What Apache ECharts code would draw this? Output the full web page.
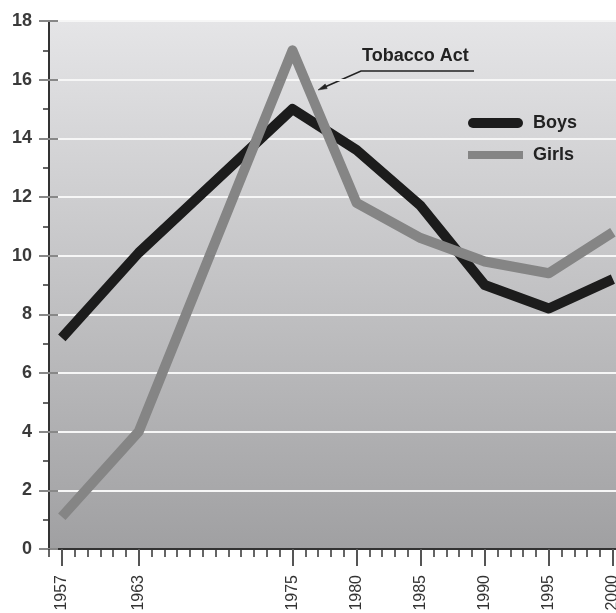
<!DOCTYPE html>
<html>
<head>
<meta charset="utf-8">
<script src="https://cdn.jsdelivr.net/npm/echarts@6/dist/echarts.min.js"></script>
<style>
html,body{margin:0;padding:0;background:#fff;}
#c{width:616px;height:613px;}
</style>
</head>
<body>
<div id="c"></div>
<script>
// ---- data ----
const years = [1957, 1963, 1975, 1980, 1985, 1990, 1995, 2000];
const boys  = [7.2, 10.1, 15.0, 13.6, 11.7, 9.0, 8.2, 9.2];
const girls = [1.1, 4.0, 17.0, 11.8, 10.6, 9.8, 9.4, 10.8];
const seriesNames = ['Boys', 'Girls'];
const annotationText = 'Tobacco Act';
const yTicks = [0, 2, 4, 6, 8, 10, 12, 14, 16, 18];

const chart = echarts.init(document.getElementById('c'), null, {renderer: 'canvas'});
const pair = (xs, ys) => xs.map((x, i) => [x, ys[i]]);
const FONT = '"Liberation Sans", Arial, sans-serif';

const option = {
  animation: false,
  grid: {
    left: 49, top: 21, width: 569, bottom: 64,
    outerBoundsMode: 'none',
    containLabel: false,
    show: true,
    backgroundColor: new echarts.graphic.LinearGradient(0, 0, 0, 1, [
      {offset: 0, color: '#e5e5e7'},
      {offset: 1, color: '#a0a0a2'}
    ]),
    borderColor: '#3a3a3a',
    borderWidth: 2
  },
  xAxis: [
    {
      type: 'value', min: 1956, max: 2000.4, interval: 1,
      axisLine: {show: true, lineStyle: {color: '#333', width: 2}},
      axisTick: {show: true, length: 8, lineStyle: {color: '#333', width: 1.5}},
      axisLabel: {show: false},
      splitLine: {show: false}
    },
    {
      type: 'value', min: 1956, max: 2000.4, position: 'bottom',
      axisLine: {show: false},
      axisTick: {show: true, customValues: years, length: 17, lineStyle: {color: '#555', width: 2}},
      axisLabel: {
        show: true, customValues: years, rotate: 90, margin: 26,
        fontSize: 16, color: '#333', fontFamily: FONT,
        formatter: v => String(v)
      },
      splitLine: {show: false}
    }
  ],
  yAxis: [
    {
      type: 'value', min: 0, max: 18, interval: 2,
      axisLine: {show: true, lineStyle: {color: '#333', width: 2}},
      axisTick: {show: true, length: 10, lineStyle: {color: '#888', width: 2}},
      minorTick: {show: true, splitNumber: 2, length: 6, lineStyle: {color: '#333', width: 1.5}},
      axisLabel: {
        show: true, margin: 17, fontSize: 18, fontWeight: 'bold', color: '#3a3a3a', fontFamily: FONT,
        customValues: yTicks
      },
      splitLine: {show: true, lineStyle: {color: '#f6f6f6', width: 2}}
    },
    {
      type: 'value', min: 0, max: 18, interval: 2, position: 'left',
      axisLine: {show: false},
      axisTick: {show: true, inside: true, length: 9, lineStyle: {color: '#888', width: 2}},
      axisLabel: {show: false},
      splitLine: {show: false}
    }
  ],
  legend: {
    orient: 'vertical', left: 463, top: 109,
    itemWidth: 55, itemHeight: 10, itemGap: 14,
    data: [
      {name: seriesNames[0], icon: 'path://M5,0 H50 A5,5 0 0 1 50,10 H5 A5,5 0 0 1 5,0 Z'},
      {name: seriesNames[1], icon: 'path://M0,1 H55 V9 H0 Z M0,0 H0.01 V10 H0 Z'}
    ],
    textStyle: {fontSize: 18, fontWeight: 'bold', color: '#222', fontFamily: FONT, padding: [0, 0, 0, 5]}
  },
  series: [
    {
      name: seriesNames[0], type: 'line', xAxisIndex: 0, yAxisIndex: 0,
      data: pair(years, boys), symbol: 'none',
      itemStyle: {color: '#1c1c1c'},
      lineStyle: {color: '#1c1c1c', width: 10, join: 'round', cap: 'butt'}
    },
    {
      name: seriesNames[1], type: 'line', xAxisIndex: 0, yAxisIndex: 0,
      data: pair(years, girls), symbol: 'none',
      itemStyle: {color: '#858585'},
      lineStyle: {color: '#858585', width: 10, join: 'round', cap: 'butt'}
    }
  ],
  graphic: [
    {
      type: 'text', left: 362, top: 47,
      style: {text: annotationText, fontSize: 18, fontWeight: 'bold', fill: '#222', fontFamily: FONT}
    },
    {
      type: 'polyline',
      shape: {points: [[474, 71], [361, 71], [322, 88.2]]},
      style: {stroke: '#222', lineWidth: 1.6, fill: null}
    },
    {
      type: 'polygon',
      shape: {points: [[318, 90], [327.2, 88.6], [325.2, 84.0]]},
      style: {fill: '#222', stroke: '#222', lineWidth: 0.5}
    }
  ]
};
chart.setOption(option);
</script>
</body>
</html>
